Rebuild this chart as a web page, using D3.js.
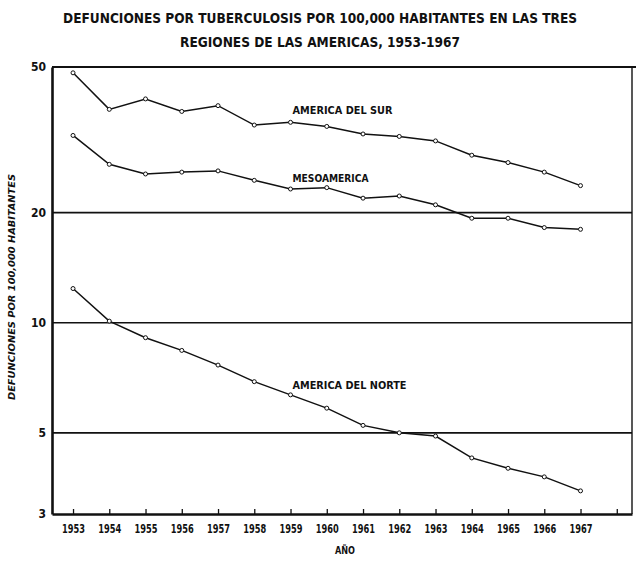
<!DOCTYPE html>
<html><head><meta charset="utf-8">
<script src="https://cdn.jsdelivr.net/npm/d3@7"></script>
<style>
body{margin:0;background:#fff;}
svg{display:block;}
text{font-family:"DejaVu Sans Condensed","Liberation Sans Narrow","Arial Narrow",sans-serif;font-weight:bold;fill:#111;}
</style></head>
<body>
<svg id="c" width="636" height="561"></svg>
<script>
const years = [1953,1954,1955,1956,1957,1958,1959,1960,1961,1962,1963,1964,1965,1966,1967];
const tickYears = [1953,1954,1955,1956,1957,1958,1959,1960,1961,1962,1963,1964,1965,1966,1967,1968];
const sur = [48.2,38.3,40.9,37.8,39.2,34.7,35.3,34.4,32.8,32.3,31.4,28.7,27.4,25.8,23.7];
const meso = [32.5,27.1,25.5,25.8,26.0,24.5,23.2,23.4,21.9,22.2,21.0,19.3,19.3,18.2,18.0];
const norte = [12.4,10.1,9.1,8.4,7.66,6.9,6.35,5.84,5.24,5.0,4.9,4.27,4.0,3.79,3.47];
const yTicks = [3,5,10,20,50];
const gridValues = [5,10,20];
const seriesNames = ["AMERICA DEL SUR","MESOAMERICA","AMERICA DEL NORTE"];
const titleLines = ["DEFUNCIONES POR TUBERCULOSIS POR 100,000 HABITANTES EN LAS TRES","REGIONES DE LAS AMERICAS, 1953-1967"];
const yTitle = "DEFUNCIONES POR 100,000 HABITANTES";
const xTitle = "AÑO";

const svg = d3.select("#c");
const L = 52, R = 632, T = 67, B = 514;
const x = d3.scaleLinear().domain([1952.42, 1968.42]).range([L, R]);
const y = d3.scaleLog().domain([3, 50]).range([B, T]);

// title
const titleLen = [514, 280];
svg.selectAll("text.title").data(titleLines).join("text")
  .attr("class","title").attr("x",320).attr("y",(d,i)=>23+i*24)
  .attr("text-anchor","middle").style("font-size","14px")
  .attr("textLength",(d,i)=>titleLen[i]).attr("lengthAdjust","spacingAndGlyphs")
  .text(d=>d);

// gridlines
svg.append("g").selectAll("line").data(gridValues).join("line")
  .attr("x1",L).attr("x2",R).attr("y1",d=>y(d)).attr("y2",d=>y(d))
  .attr("stroke","#111").attr("stroke-width",1.6);

// frame
svg.append("line").attr("x1",L).attr("x2",636).attr("y1",T).attr("y2",T).attr("stroke","#111").attr("stroke-width",2.2);
svg.append("line").attr("x1",R).attr("x2",R).attr("y1",T).attr("y2",B).attr("stroke","#111").attr("stroke-width",1.4);

// y axis
const yAxis = d3.axisLeft(y).tickValues(yTicks).tickFormat(d3.format("d")).tickSize(0).tickPadding(6);
const gy = svg.append("g").attr("transform",`translate(${L},0)`).call(yAxis);
gy.select(".domain").attr("stroke","#111").attr("stroke-width",2.6);
gy.selectAll("text").style("font-size","12px").style("font-family",null);

// x axis
const xAxis = d3.axisBottom(x).tickValues(tickYears).tickFormat(d=>years.includes(d)?String(d):"").tickSizeInner(-5).tickSizeOuter(0).tickPadding(11);
const gx = svg.append("g").attr("transform",`translate(0,${B})`).call(xAxis);
gx.select(".domain").attr("stroke","#111").attr("stroke-width",2.6);
gx.selectAll(".tick line").attr("stroke","#111").attr("stroke-width",1.3);
gx.selectAll("text").style("font-size","11.5px").style("font-family",null)
  .attr("textLength",d=>years.includes(d)?23:null).attr("lengthAdjust","spacingAndGlyphs");

// axis titles
svg.append("text").attr("transform","translate(15,287) rotate(-90)").attr("text-anchor","middle")
  .style("font-size","9px").style("font-style","italic")
  .attr("textLength",226).attr("lengthAdjust","spacingAndGlyphs").text(yTitle);
svg.append("text").attr("x",345).attr("y",554).attr("text-anchor","middle").style("font-size","10.5px")
  .attr("textLength",20).attr("lengthAdjust","spacingAndGlyphs").text(xTitle);

// series
const series = [sur, meso, norte];
const line = d3.line().x((d,i)=>x(years[i])).y(d=>y(d));
series.forEach(s=>{
  svg.append("path").datum(s).attr("d",line).attr("fill","none").attr("stroke","#111").attr("stroke-width",1.5);
  svg.append("g").selectAll("circle").data(s).join("circle")
    .attr("cx",(d,i)=>x(years[i])).attr("cy",d=>y(d)).attr("r",2)
    .attr("fill","#fff").attr("stroke","#111").attr("stroke-width",1);
});

// series labels (anchored near the 1959 point of each series)
const labelOffset = [-8, -7, -6];
const labelLen = [100, 76, 114];
svg.selectAll("text.lab").data(seriesNames).join("text").attr("class","lab")
  .attr("x",x(1959)+2)
  .attr("y",(d,i)=>y(series[i][6])+labelOffset[i])
  .style("font-size","11px")
  .attr("textLength",(d,i)=>labelLen[i]).attr("lengthAdjust","spacingAndGlyphs")
  .text(d=>d);
</script>
</body></html>
